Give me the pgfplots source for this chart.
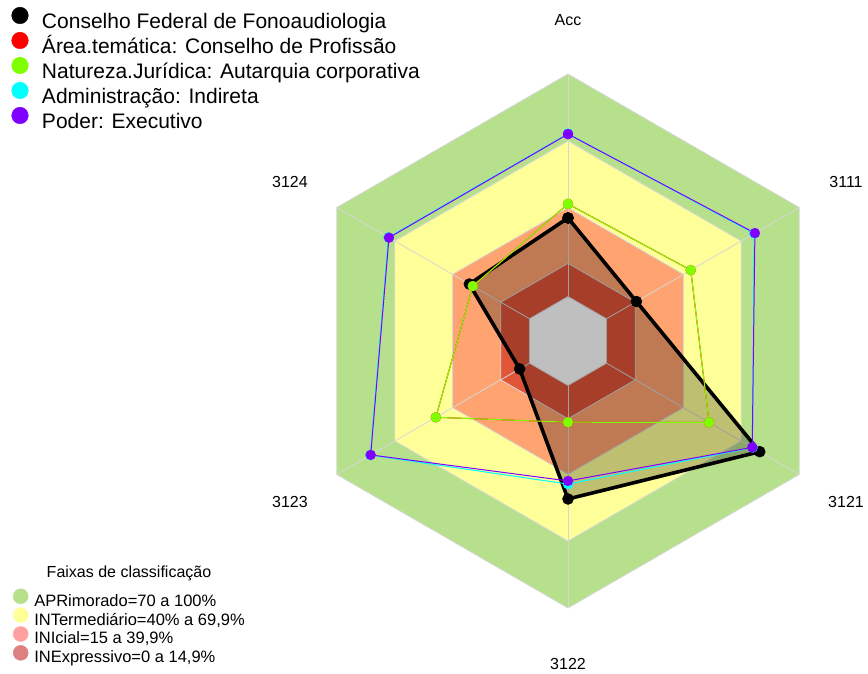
\documentclass[border=0pt]{standalone}
\usepackage{pgfplots}
\pgfplotsset{compat=1.18}
\usepackage{pgfplotstable}
\usepackage{fontspec}
\setmainfont{Liberation Sans}

\definecolor{bandA}{RGB}{183,224,140}
\definecolor{bandB}{RGB}{255,255,153}
\definecolor{bandC}{RGB}{255,163,112}
\definecolor{bandD}{RGB}{224,84,56}
\definecolor{gridc}{RGB}{215,215,215}
\definecolor{sred}{RGB}{255,0,0}
\definecolor{sgreen}{RGB}{128,255,0}
\definecolor{scyan}{RGB}{0,255,255}
\definecolor{spurple}{RGB}{128,0,255}
\definecolor{legA}{RGB}{183,224,140}
\definecolor{legB}{RGB}{255,255,153}
\definecolor{legC}{RGB}{255,160,160}
\definecolor{legD}{RGB}{222,128,128}

% values per axis (0..1), last row repeats the first to close the polygon
\pgfplotstableread{
a     black  red    green  cyan   purple
90    0.353  0.416  0.416  0.732  0.730
30    0.155  0.437  0.437  0.766  0.770
-30   0.795  0.532  0.532  0.758  0.756
-90   0.510  0.165  0.165  0.443  0.429
-150  0.051  0.486  0.486  0.826  0.824
150   0.312  0.294  0.294  0.732  0.729
90    0.353  0.416  0.416  0.732  0.730
}\scores

\pgfplotstableread{
a     r
90    1
30    1
-30   1
-90   1
-150  1
150   1
90    1
}\hexa

\pgfplotstableread{
v   w
0   0
1   1
}\spoke

\begin{document}
\begin{tikzpicture}
\begin{axis}[
  width=868pt, height=673pt, scale only axis,
  xmin=0, xmax=868, ymin=0, ymax=673,
  hide axis, clip=false,
  legend cell align=left,
  legend style={at={(axis cs:11.7,665.8)}, anchor=north west, draw=none, fill=none,
    inner sep=0pt, outer sep=0pt, row sep=-0.3pt, column sep=13.7pt,
    font=\fontsize{21}{21}\selectfont,
    nodes={inner sep=0pt, text height=15pt, text depth=4pt}},
  legend image code/.code={\draw[mark=*, mark size=8.3pt, #1] plot coordinates {(0pt,7.5pt)};},
]
\path (rel axis cs:0,0) rectangle (rel axis cs:1,1);

% classification bands
\addplot[forget plot, fill=bandA, draw=gridc, line width=0.8pt] table[x expr={568+(44.5+222.5*1)*cos(\thisrow{a})}, y expr={332+(44.5+222.5*1)*sin(\thisrow{a})}] {\hexa};
\addplot[forget plot, fill=bandB, draw=gridc, line width=0.8pt] table[x expr={568+(44.5+222.5*0.699)*cos(\thisrow{a})}, y expr={332+(44.5+222.5*0.699)*sin(\thisrow{a})}] {\hexa};
\addplot[forget plot, fill=bandC, draw=gridc, line width=0.8pt] table[x expr={568+(44.5+222.5*0.399)*cos(\thisrow{a})}, y expr={332+(44.5+222.5*0.399)*sin(\thisrow{a})}] {\hexa};
\addplot[forget plot, fill=bandD, draw=gridc, line width=0.8pt] table[x expr={568+(44.5+222.5*0.149)*cos(\thisrow{a})}, y expr={332+(44.5+222.5*0.149)*sin(\thisrow{a})}] {\hexa};
\addplot[forget plot, fill=white, draw=gridc, line width=0.8pt] table[x expr={568+(44.5)*cos(\thisrow{a})}, y expr={332+(44.5)*sin(\thisrow{a})}] {\hexa};

% spokes
\pgfplotsinvokeforeach{90,30,-30,-90,-150,150}{
\addplot[forget plot, draw=gridc, line width=0.8pt] table[x expr={568+(44.5+222.5*\thisrow{v})*cos(#1)}, y expr={332+(44.5+222.5*\thisrow{v})*sin(#1)}] {\spoke};
}

% series
\addplot[forget plot, draw=black, line width=3.6pt, line join=round, fill=black, fill opacity=0.25,
  mark=*, mark size=5.5pt, mark options={fill=black, fill opacity=1, draw opacity=1, line width=0.5pt}]
  table[x expr={568+(44.5+222.5*\thisrow{black})*cos(\thisrow{a})}, y expr={332+(44.5+222.5*\thisrow{black})*sin(\thisrow{a})}] {\scores};
\addplot[forget plot, draw=sred, line width=1pt, mark=*, mark size=5pt, mark options={fill=sred, line width=0.3pt}]
  table[x expr={568+(44.5+222.5*\thisrow{red})*cos(\thisrow{a})}, y expr={332+(44.5+222.5*\thisrow{red})*sin(\thisrow{a})}] {\scores};
\addplot[forget plot, draw=sgreen, line width=1pt, mark=*, mark size=5pt, mark options={fill=sgreen, line width=0.3pt}]
  table[x expr={568+(44.5+222.5*\thisrow{green})*cos(\thisrow{a})}, y expr={332+(44.5+222.5*\thisrow{green})*sin(\thisrow{a})}] {\scores};
\addplot[forget plot, draw=scyan, line width=1pt, mark=*, mark size=5pt, mark options={fill=scyan, line width=0.3pt}]
  table[x expr={568+(44.5+222.5*\thisrow{cyan})*cos(\thisrow{a})}, y expr={332+(44.5+222.5*\thisrow{cyan})*sin(\thisrow{a})}] {\scores};
\addplot[forget plot, draw=spurple, line width=1pt, mark=*, mark size=5pt, mark options={fill=spurple, line width=0.3pt}]
  table[x expr={568+(44.5+222.5*\thisrow{purple})*cos(\thisrow{a})}, y expr={332+(44.5+222.5*\thisrow{purple})*sin(\thisrow{a})}] {\scores};

% axis labels
\begin{scope}[every node/.style={font=\fontsize{16}{16}\selectfont}]
\node at (axis cs:568,653) {Acc};
\node at (axis cs:846,491) {3111};
\node at (axis cs:846,171) {3121};
\node at (axis cs:568,9) {3122};
\node at (axis cs:290,171) {3123};
\node at (axis cs:290,491) {3124};
\end{scope}

% series legend
\addlegendimage{color=black}
\addlegendentry{Conselho Federal de Fonoaudiologia}
\addlegendimage{color=sred}
\addlegendentry{Área.temática: Conselho de Profissão}
\addlegendimage{color=sgreen}
\addlegendentry{Natureza.Jurídica: Autarquia corporativa}
\addlegendimage{color=scyan}
\addlegendentry{Administração: Indireta}
\addlegendimage{color=spurple}
\addlegendentry{Poder: Executivo}
\end{axis}

% band legend
\begin{axis}[
  width=868pt, height=673pt, scale only axis,
  xmin=0, xmax=868, ymin=0, ymax=673,
  hide axis, clip=false,
  legend cell align=left,
  legend style={at={(axis cs:13.2,84.2)}, anchor=north west, draw=none, fill=none,
    inner sep=0pt, outer sep=0pt, row sep=-2.1pt, column sep=6.1pt,
    font=\fontsize{16.5}{16.5}\selectfont,
    nodes={inner sep=0pt, text height=12pt, text depth=3.5pt}},
  legend image code/.code={\draw[mark=*, mark size=7.5pt, #1] plot coordinates {(0pt,5.7pt)};},
]
\path (rel axis cs:0,0) rectangle (rel axis cs:1,1);
\node[anchor=base, font=\fontsize{16}{16}\selectfont] at (axis cs:129,96) {Faixas de classificação};
\addlegendimage{color=legA}
\addlegendentry{APRimorado=70 a 100\%}
\addlegendimage{color=legB}
\addlegendentry{INTermediário=40\% a 69,9\%}
\addlegendimage{color=legC}
\addlegendentry{INIcial=15 a 39,9\%}
\addlegendimage{color=legD}
\addlegendentry{INExpressivo=0 a 14,9\%}
\end{axis}
\end{tikzpicture}
\end{document}
